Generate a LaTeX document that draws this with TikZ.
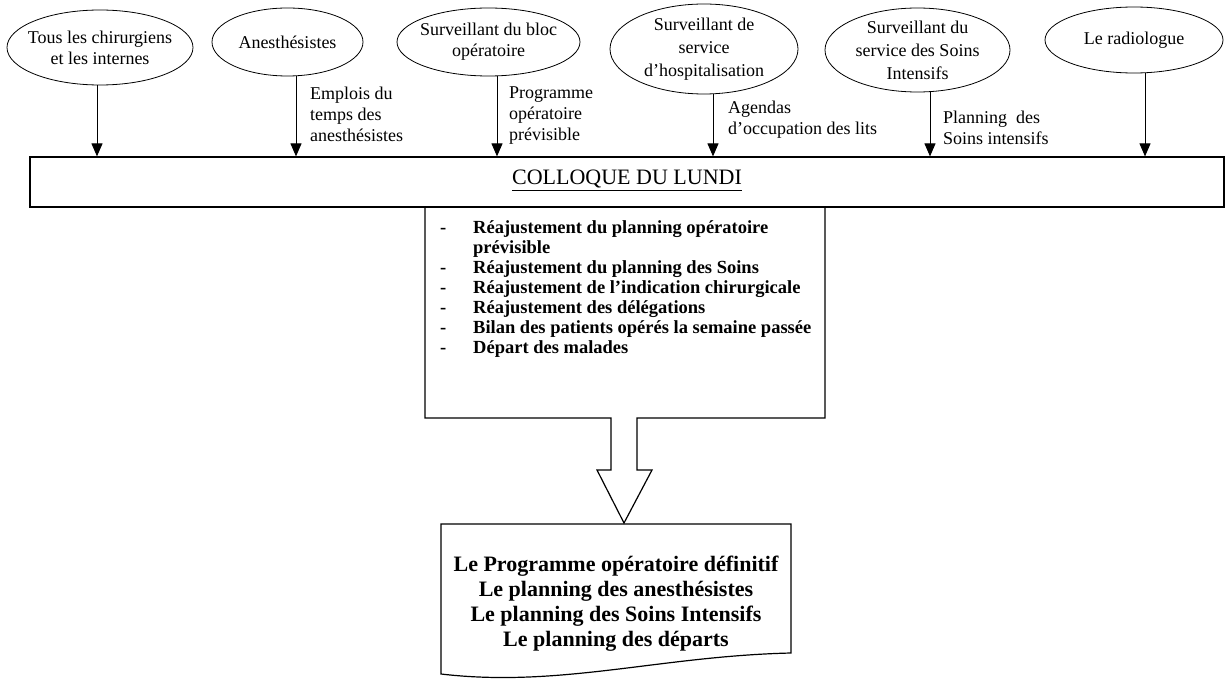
\documentclass[tikz,border=0pt]{standalone}
\usepackage{fontspec}
\setmainfont{Liberation Serif}
\usetikzlibrary{shapes.geometric,arrows.meta}
\begin{document}
\begin{tikzpicture}[x=1pt,y=-1pt,
  ell/.style={draw, ellipse, inner sep=0pt, line width=0.8pt},
  etxt/.style={align=center, inner sep=0pt, font=\fontsize{18}{21}\selectfont},
  lbl/.style={align=left, anchor=north west, inner sep=0pt, font=\fontsize{18}{21}\selectfont},
  arr/.style={line width=1pt, -{Triangle[length=13pt,width=11pt]}},
  boxline/.style={line width=1.2pt}]
\useasboundingbox (0,0) rectangle (1228,679);

% ellipses
\node[ell, minimum width=186pt, minimum height=75pt] (e1) at (100,47.5) {};
\node[ell, minimum width=151pt, minimum height=68pt] (e2) at (287.5,42) {};
\node[ell, minimum width=183pt, minimum height=68pt] (e3) at (488.5,42) {};
\node[ell, minimum width=188pt, minimum height=90pt] (e4) at (704,49) {};
\node[ell, minimum width=185pt, minimum height=84pt] (e5) at (917.5,50) {};
\node[ell, minimum width=178pt, minimum height=66pt] (e6) at (1134,40) {};

\node[etxt] (x1) at (e1) {Tous les chirurgiens\\et les internes};
\node[etxt] (x2) at (e2) {Anesthésistes};
\node[etxt] (x3) at (e3) {Surveillant du bloc\\opératoire};
\node[etxt, font=\fontsize{18}{23}\selectfont] (x4) at (e4) {Surveillant de\\service\\d’hospitalisation};
\node[etxt, font=\fontsize{18}{23}\selectfont] (x5) at (e5) {Surveillant du\\service des Soins\\Intensifs};
\node[etxt] (x6) at (e6) {Le radiologue};

% lower shape with block arrow
\draw[boxline] (425,207) -- (425,418) -- (611,418) -- (611,470) -- (597,470) -- (624,523)
  -- (652,470) -- (637,470) -- (637,418) -- (825,418) -- (825,207);

% main box
\node[draw, boxline, fill=white, minimum width=1194pt, minimum height=50pt, inner sep=0pt] (box) at (627,182) {};
\node[anchor=base, inner sep=0pt, font=\fontsize{22}{26}\selectfont] (coll) at (627,185) {\underline{COLLOQUE DU LUNDI}};

% arrow targets
\coordinate (t1) at (97,157);
\coordinate (t2) at (296,157);
\coordinate (t3) at (497,157);
\coordinate (t4) at (713,157);
\coordinate (t5) at (930,157);
\coordinate (t6) at (1145,157);
\draw[arr] (e1.south -| t1) -- (t1 |- box.north);
\draw[arr] (e2.south -| t2) -- (t2 |- box.north);
\draw[arr] (e3.south -| t3) -- (t3 |- box.north);
\draw[arr] (e4.south -| t4) -- (t4 |- box.north);
\draw[arr] (e5.south -| t5) -- (t5 |- box.north);
\draw[arr] (e6.south -| t6) -- (t6 |- box.north);

% labels
\node[lbl] (l2) at (310,86.5) {Emplois du\\temps des\\anesthésistes};
\node[lbl] (l3) at (509,86.5) {Programme\\opératoire\\prévisible};
\node[lbl] (l4) at (728,100.5) {Agendas\\d’occupation des lits};
\node[lbl] (l5) at (943,110.5) {Planning~~des\\Soins intensifs};

% list
\node[anchor=north west, inner sep=0pt, font=\bfseries\fontsize{18.5}{20}\selectfont] (list) at (440,219)
{\begin{tabular}{@{}p{33pt}@{}p{345pt}@{}}
- & \raggedright Réajustement du planning opératoire prévisible\tabularnewline
- & \raggedright Réajustement du planning des Soins\tabularnewline
- & \raggedright Réajustement de l’indication chirurgicale\tabularnewline
- & \raggedright Réajustement des délégations\tabularnewline
- & \raggedright Bilan des patients opérés la semaine passée\tabularnewline
- & \raggedright Départ des malades\tabularnewline
\end{tabular}};

% document shape
\draw[boxline] (441,524) -- (791,524) -- (791,653) .. controls (660,656) and (560,688) .. (441,674) -- cycle;
\node[align=center, inner sep=0pt, font=\bfseries\fontsize{22}{25}\selectfont] (doc) at (616,604)
{Le Programme opératoire définitif\\Le planning des anesthésistes\\Le planning des Soins Intensifs\\Le planning des départs};
\end{tikzpicture}
\end{document}
